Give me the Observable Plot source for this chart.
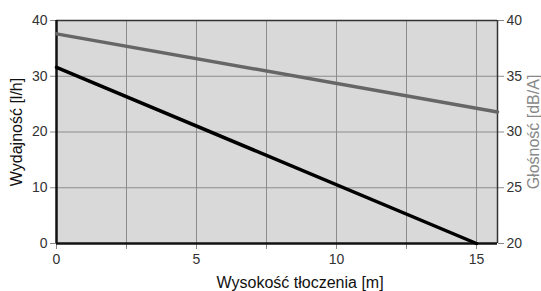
<!DOCTYPE html>
<html><head><meta charset="utf-8">
<script src="https://cdn.jsdelivr.net/npm/d3@7"></script>
<script src="https://cdn.jsdelivr.net/npm/@observablehq/plot@0.6"></script>
<style>
body{margin:0;background:#fff;}
svg{font-family:"Liberation Sans",Arial,sans-serif;}
</style></head>
<body><div id="chart"></div>
<script>
// Flow rate line (left axis, l/h)
const flowHeights = [0, 15];
const flowValues = [31.6, 0];
// Noise line (right axis, dB/A)
const noiseHeights = [0, 15.75];
const noiseValues = [38.8, 31.8];
// Ticks
const xTickLabels = [0, 5, 10, 15];
const xMinorTicks = [2.5, 7.5, 12.5];
const xGrid = [2.5, 5, 7.5, 10, 12.5, 15];
const yLeftTicks = [0, 10, 20, 30, 40];
const yGrid = [10, 20, 30];
const yRightTicks = [20, 25, 30, 35, 40];

const toLeft = db => (db - 20) * 2;
const flow = flowHeights.map((h, i) => ({h, v: flowValues[i]}));
const noise = noiseHeights.map((h, i) => ({h, v: toLeft(noiseValues[i])}));

const chart = Plot.plot({
  width: 541, height: 291,
  marginLeft: 56, marginRight: 44, marginTop: 20, marginBottom: 48,
  style: {fontSize: "14px", color: "#333", background: "#fff"},
  x: {domain: [0, 15.75]},
  y: {domain: [0, 40]},
  marks: [
    Plot.frame({fill: "#d9d9d9", stroke: null}),
    Plot.ruleX(xGrid, {stroke: "#8c8c8c", strokeWidth: 1}),
    Plot.ruleY(yGrid, {stroke: "#8c8c8c", strokeWidth: 1}),
    Plot.axisX(xTickLabels, {tickSize: 6, tickPadding: 5, stroke: "#888", fill: "#333", label: null}),
    Plot.axisX(xMinorTicks, {tickSize: 6, tickFormat: () => "", stroke: "#888", label: null}),
    Plot.axisY(yLeftTicks, {tickSize: 6, tickPadding: 3, stroke: "#888", fill: "#333", label: null}),
    Plot.axisY(yRightTicks.map(toLeft), {anchor: "right", tickSize: 6, tickPadding: 3, stroke: "#888", fill: "#333",
      tickFormat: d => String(20 + d / 2), label: null}),
    Plot.ruleY([40], {stroke: "#333", strokeWidth: 1.5}),
    Plot.ruleX([15.75], {stroke: "#333", strokeWidth: 1.5}),
    Plot.ruleX([0], {stroke: "#111", strokeWidth: 2.5}),
    Plot.ruleY([0], {stroke: "#111", strokeWidth: 2.5}),
    Plot.line(noise, {x: "h", y: "v", stroke: "#666", strokeWidth: 3.5}),
    Plot.line(flow, {x: "h", y: "v", stroke: "#000", strokeWidth: 3.5}),
    Plot.text(["Wysokość tłoczenia [m]"], {frameAnchor: "bottom", x: 8.7, dy: 44, fontSize: 16, fill: "#111"}),
    Plot.text(["Wydajność [l/h]"], {frameAnchor: "left", textAnchor: "middle", dx: -40, rotate: -90, fontSize: 16, fill: "#111"}),
    Plot.text(["Głośność [dB/A]"], {frameAnchor: "right", textAnchor: "middle", dx: 36, rotate: -90, fontSize: 16, fill: "#888"})
  ]
});
document.getElementById("chart").append(chart);
</script></body></html>
